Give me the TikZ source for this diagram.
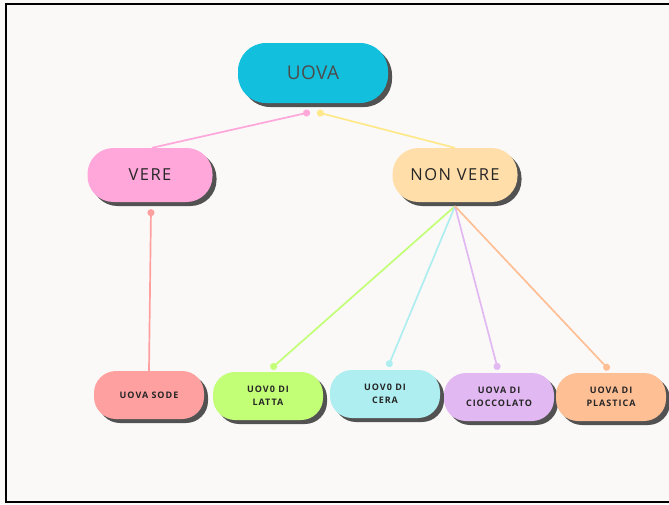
\documentclass[tikz,border=0pt]{standalone}
\usepackage{fontspec}
\setmainfont{Open Sans}
\usetikzlibrary{shadows,arrows.meta}
\definecolor{paper}{HTML}{FAF9F7}
\definecolor{uovacol}{HTML}{12C0DE}
\definecolor{verecol}{HTML}{FFA6DA}
\definecolor{nonverecol}{HTML}{FFDEAA}
\definecolor{sodecol}{HTML}{FFA0A0}
\definecolor{lattacol}{HTML}{C3FF76}
\definecolor{ceracol}{HTML}{AEEEF0}
\definecolor{cioccol}{HTML}{E2B8F2}
\definecolor{plastcol}{HTML}{FFBF95}
\definecolor{yelline}{HTML}{FFE88A}

\begin{document}
\begin{tikzpicture}[x=1pt, y=-1pt,
  pill/.style={rectangle, rounded corners=24pt, align=center, text=black!85,
    general shadow={fill=black!68, shadow xshift=4pt, shadow yshift=-4pt}},
  root/.style={pill, minimum width=150pt, minimum height=60pt, rounded corners=28pt,
    font=\fontsize{19}{22}\selectfont\addfontfeatures{LetterSpace=2}, text=black!70},
  mid/.style={pill, minimum width=125pt, minimum height=54pt, rounded corners=26pt,
    font=\fontsize{16.5}{18}\selectfont\addfontfeatures{LetterSpace=9}},
  leaf/.style={pill, minimum width=110pt, minimum height=48pt, rounded corners=22pt,
    font=\bfseries\fontsize{9}{13}\selectfont\addfontfeatures{LetterSpace=11}},
  link/.style={line width=1.7pt},
  dot/.style={link, {Circle[length=7pt]}-},
  todot/.style={link, -{Circle[length=7pt]}}
]
\useasboundingbox (0,0) rectangle (669,504);
\fill[paper] (0,0) rectangle (669,504);
\draw[line width=1.5pt] (675,4) -- (6,4) -- (6,502) -- (675,502);

\node[root, fill=uovacol] (uova) at (313,73) {UOVA};
\node[mid, fill=verecol] (vere) at (150,175) {VERE};
\node[mid, fill=nonverecol] (nonvere) at (455,175) {NON VERE};

\node[leaf, fill=sodecol] (sode) at (149,395) {UOVA SODE};
\node[leaf, fill=lattacol] (latta) at (268,396) {UOV0 DI\\LATTA};
\node[leaf, fill=ceracol] (cera) at (385,394) {UOV0 DI\\CERA};
\node[leaf, fill=cioccol] (ciocc) at (499,397) {UOVA DI\\CIOCCOLATO};
\node[leaf, fill=plastcol] (plast) at (611,397) {UOVA DI\\PLASTICA};

% links
\draw[dot, verecol] ([xshift=-3pt,yshift=-9pt]uova.south) -- ([xshift=2pt]vere.north);
\draw[dot, yelline] ([xshift=4pt,yshift=-9pt]uova.south) -- (nonvere.north);
\draw[dot, sodecol] ([xshift=1pt,yshift=-7pt]vere.south) -- (sode.north);
\draw[todot, lattacol] ([yshift=-4pt]nonvere.south) -- ([xshift=3pt,yshift=3pt]latta.north);
\draw[todot, ceracol] ([yshift=-4pt]nonvere.south) -- ([xshift=3pt,yshift=3pt]cera.north);
\draw[todot, cioccol] ([yshift=-4pt]nonvere.south) -- ([xshift=-1pt,yshift=3pt]ciocc.north);
\draw[todot, plastcol] ([yshift=-4pt]nonvere.south) -- ([xshift=-2pt,yshift=3pt]plast.north);
\end{tikzpicture}
\end{document}
